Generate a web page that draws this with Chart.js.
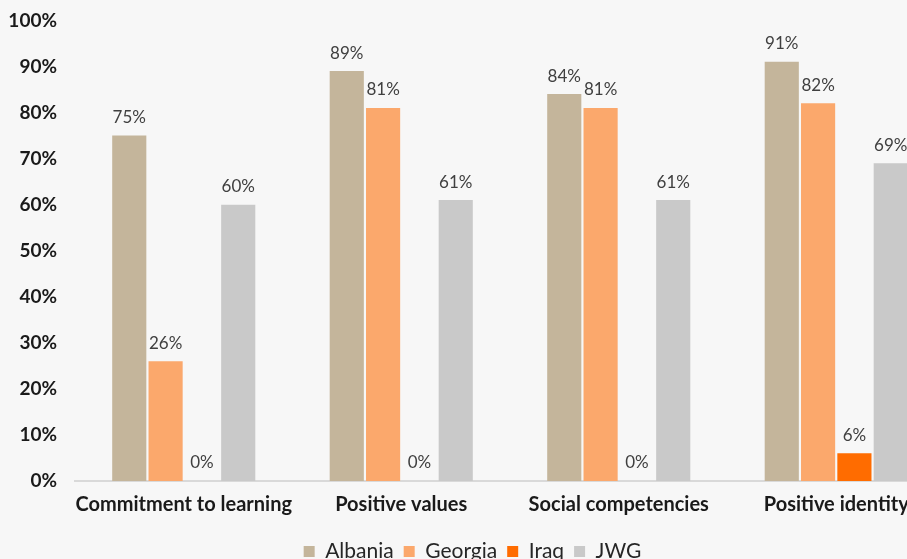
<!DOCTYPE html>
<html>
<head>
<meta charset="utf-8">
<script src="https://cdn.jsdelivr.net/npm/chart.js@4"></script>
<style>
  html, body { margin: 0; padding: 0; background: #f7f7f7; overflow: hidden; }
  #wrap { width: 945px; height: 581px; margin-top: -9px; }
</style>
</head>
<body>
<div id="wrap"><canvas id="chart" width="945" height="581"></canvas></div>
<script>
const categories = ["Commitment to learning", "Positive values", "Social competencies", "Positive identity"];
const albania = [75, 89, 84, 91];
const georgia = [26, 81, 81, 82];
const iraq = [0, 0, 0, 6];
const jwg = [60, 61, 61, 69];
const yTicks = [0, 10, 20, 30, 40, 50, 60, 70, 80, 90, 100];

// draw the value above every bar
const barLabels = {
  id: "barLabels",
  afterDatasetsDraw(chart) {
    const ctx = chart.ctx;
    ctx.save();
    ctx.font = "17px Lato";
    ctx.fillStyle = "#404040";
    ctx.textAlign = "center";
    ctx.textBaseline = "middle";
    chart.data.datasets.forEach((ds, i) => {
      chart.getDatasetMeta(i).data.forEach((bar, j) => {
        ctx.fillText(ds.data[j] + "%", bar.x, bar.y - 18);
      });
    });
    ctx.restore();
  }
};

Chart.defaults.font.family = "Lato";
Chart.defaults.color = "#262626";

new Chart(document.getElementById("chart"), {
  type: "bar",
  data: {
    labels: categories,
    datasets: [
      { label: "Albania", data: albania, backgroundColor: "#c4b59b" },
      { label: "Georgia", data: georgia, backgroundColor: "#fba86c" },
      { label: "Iraq", data: iraq, backgroundColor: "#ff6c00" },
      { label: "JWG", data: jwg, backgroundColor: "#c9c9c9" }
    ]
  },
  options: {
    responsive: false,
    animation: false,
    layout: { padding: 0 },
    datasets: { bar: { categoryPercentage: 0.668, barPercentage: 0.94 } },
    plugins: {
      legend: {
        position: "bottom",
        labels: { boxWidth: 11, boxHeight: 11, padding: 10, font: { size: 21 }, color: "#262626" }
      },
      tooltip: { enabled: false }
    },
    scales: {
      x: {
        afterFit: (s) => { s.height = 50; },
        grid: { display: false, drawTicks: false },
        border: { display: true, color: "#d9d9d9", width: 2 },
        ticks: {
          font: { size: 20, weight: "bold" },
          color: "#1a1a1a",
          padding: 12,
          maxRotation: 0,
          minRotation: 0,
          autoSkip: false
        }
      },
      y: {
        min: 0,
        max: 100,
        afterFit: (s) => { s.width = 75; },
        afterBuildTicks: (s) => { s.ticks = yTicks.map((v) => ({ value: v })); },
        grid: { display: false, drawTicks: false },
        border: { display: false },
        ticks: {
          font: { size: 19, weight: "bold" },
          color: "#1a1a1a",
          padding: 18,
          callback: (v) => v + "%"
        }
      }
    }
  },
  plugins: [barLabels]
});
</script>
</body>
</html>
